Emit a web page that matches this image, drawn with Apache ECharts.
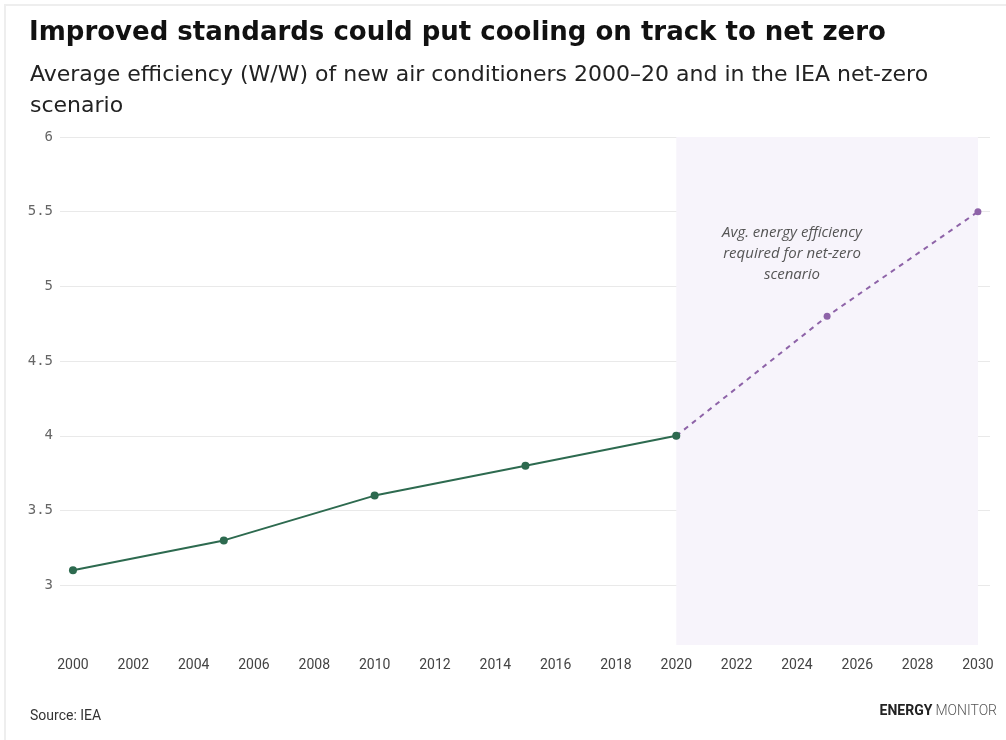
<!DOCTYPE html>
<html>
<head>
<meta charset="utf-8">
<script src="https://cdn.jsdelivr.net/npm/echarts@6/dist/echarts.min.js"></script>
<style>
  html, body { margin: 0; padding: 0; background: #fff; }
  #chart { width: 1006px; height: 740px; }
</style>
</head>
<body>
<div id="chart"></div>
<script>
// data
var historyYears = [2000, 2005, 2010, 2015, 2020];
var historyValues = [3.1, 3.3, 3.6, 3.8, 4.0];
var scenarioYears = [2020, 2025, 2030];
var scenarioValues = [4.0, 4.8, 5.5];
var xTicks = [2000, 2002, 2004, 2006, 2008, 2010, 2012, 2014, 2016, 2018, 2020, 2022, 2024, 2026, 2028, 2030];
var yTicks = [3, 3.5, 4, 4.5, 5, 5.5, 6];

var green = "#2d6a4f";
var purple = "#8e63a8";

var myChart = echarts.init(document.getElementById("chart"));

var option = {
  backgroundColor: "#fff",
  animation: false,
  title: [
    {
      text: "Improved standards could put cooling on track to net zero",
      left: 24,
      top: 15,
      textStyle: { fontFamily: "DejaVu Sans", fontSize: 26, fontWeight: "bold", color: "#111" }
    },
    {
      text: "Average efficiency (W/W) of new air conditioners 2000\u201320 and in the IEA net-zero\nscenario",
      left: 25,
      top: 55,
      textStyle: { fontFamily: "DejaVu Sans", fontSize: 22, fontWeight: "normal", color: "#222", lineHeight: 31 }
    },
    {
      text: "Source: IEA",
      left: 25,
      top: 704,
      textStyle: { fontFamily: "Roboto", fontSize: 14, fontWeight: "normal", color: "#333" }
    }
  ],
  graphic: [
    {
      type: "rect",
      shape: { x: 5, y: 5, width: 1010, height: 740 },
      style: { fill: "none", stroke: "#eeeeee", lineWidth: 2 },
      silent: true
    },
    {
      type: "text",
      right: 9,
      top: 704,
      style: {
        text: "{b|ENERGY}{l|MONITOR}",
        rich: {
          b: { fontFamily: "Roboto", fontSize: 14, fontWeight: "bold", fill: "#222" },
          l: { fontFamily: "Roboto", fontSize: 14, fontWeight: 300, fill: "#555", padding: [0, 0, 0, 3] }
        }
      }
    },
    {
      type: "text",
      x: 792,
      y: 222,
      z: 100,
      style: {
        text: "Avg. energy efficiency\nrequired for net-zero\nscenario",
        align: "center",
        verticalAlign: "top",
        fontFamily: "Open Sans",
        fontStyle: "italic",
        fontSize: 15,
        lineHeight: 21,
        fill: "#555"
      }
    }
  ],
  grid: { left: 60, right: 16, top: 137, bottom: 95 },
  xAxis: {
    type: "value",
    min: 1999.57,
    max: 2030.4,
    axisLine: { show: false },
    axisTick: { show: false, customValues: xTicks },
    splitLine: { show: false },
    axisLabel: {
      customValues: xTicks,
      formatter: function (v) { return String(v); },
      margin: 13,
      color: "#444",
      fontFamily: "Roboto",
      fontSize: 14
    }
  },
  yAxis: {
    type: "value",
    min: 2.6,
    max: 6,
    axisLine: { show: false },
    axisTick: { show: false, customValues: yTicks },
    splitLine: { lineStyle: { color: "#e9e9e9", width: 1 } },
    axisLabel: {
      customValues: yTicks,
      margin: 7,
      color: "#666",
      fontFamily: "DejaVu Sans Mono",
      fontSize: 14
    }
  },
  series: [
    {
      name: "Net zero",
      type: "line",
      data: scenarioYears.map(function (y, i) { return [y, scenarioValues[i]]; }),
      symbol: "circle",
      symbolSize: 7,
      lineStyle: { color: purple, width: 2, type: [5, 5] },
      itemStyle: { color: purple },
      markArea: {
        silent: true,
        itemStyle: { color: "#f7f4fb" },
        data: [[{ xAxis: 2020 }, { xAxis: 2030 }]]
      },
      z: 2
    },
    {
      name: "Historical",
      type: "line",
      data: historyYears.map(function (y, i) { return [y, historyValues[i]]; }),
      symbol: "circle",
      symbolSize: 8,
      lineStyle: { color: green, width: 2 },
      itemStyle: { color: green },
      z: 3
    }
  ]
};

myChart.setOption(option);
</script>
</body>
</html>
